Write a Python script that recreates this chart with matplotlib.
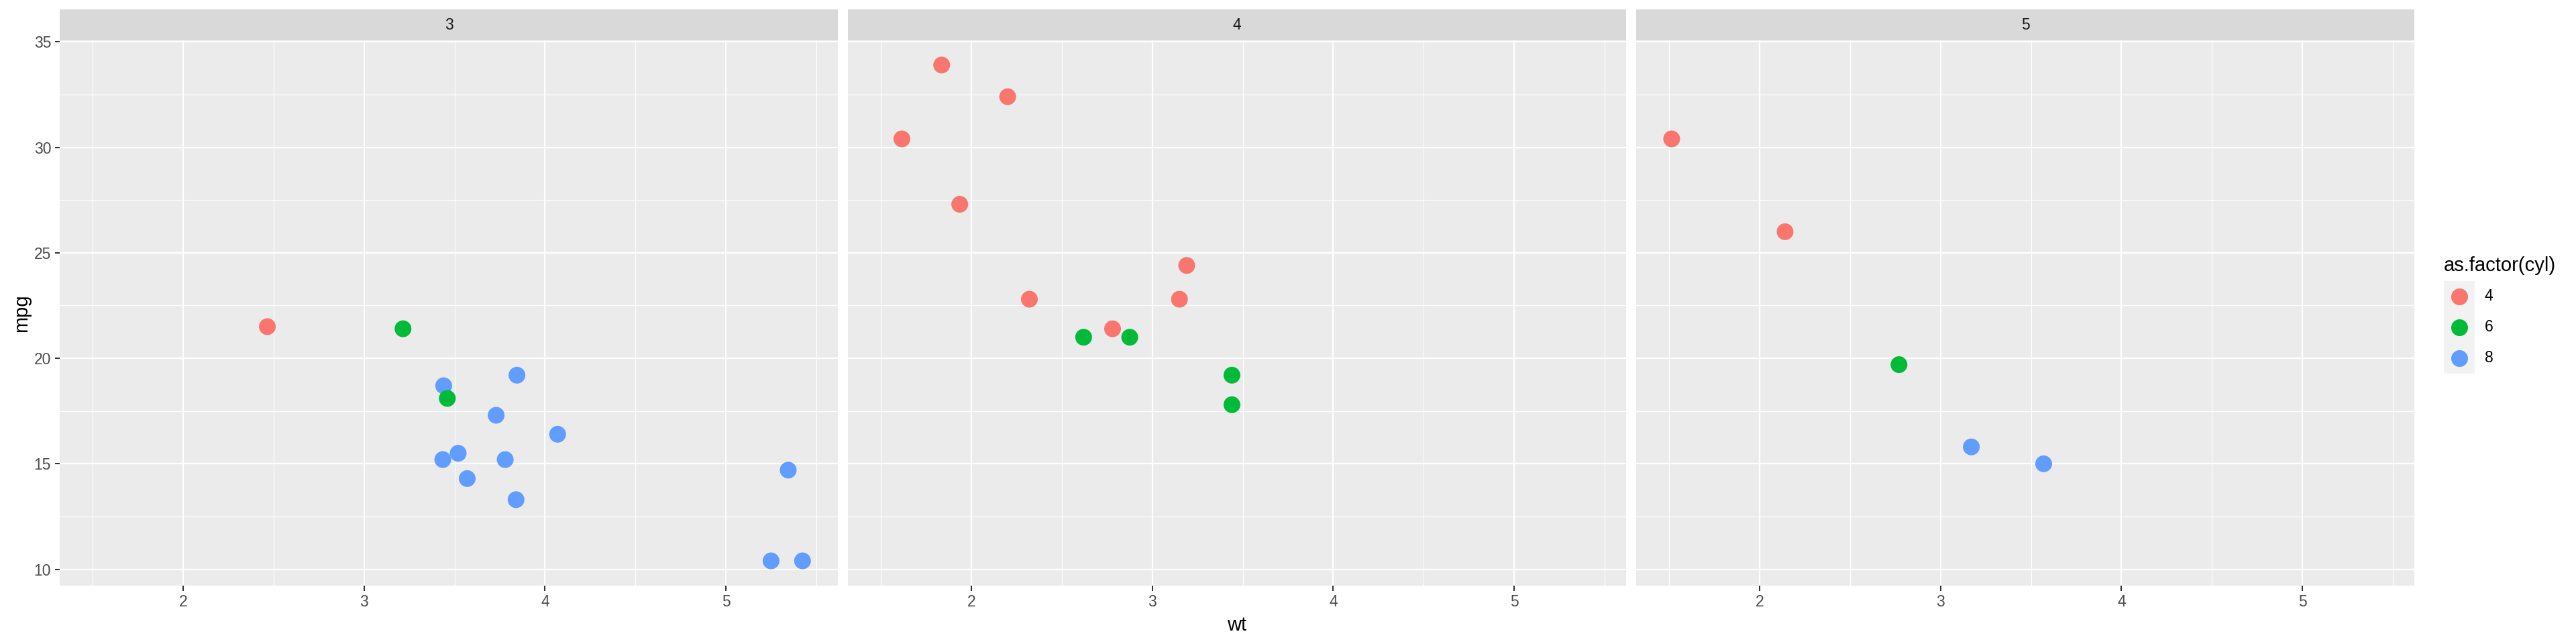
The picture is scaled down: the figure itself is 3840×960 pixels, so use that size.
import matplotlib
matplotlib.use("Agg")
import matplotlib.pyplot as plt
from matplotlib.ticker import FixedLocator
import numpy as np

# mtcars data
wt = [2.620, 2.875, 2.320, 3.215, 3.440, 3.460, 3.570, 3.190, 3.150, 3.440,
      3.440, 4.070, 3.730, 3.780, 5.250, 5.424, 5.345, 2.200, 1.615, 1.835,
      2.465, 3.520, 3.435, 3.840, 3.845, 1.935, 2.140, 1.513, 3.170, 2.770,
      3.570, 2.780]
mpg = [21.0, 21.0, 22.8, 21.4, 18.7, 18.1, 14.3, 24.4, 22.8, 19.2,
       17.8, 16.4, 17.3, 15.2, 10.4, 10.4, 14.7, 32.4, 30.4, 33.9,
       21.5, 15.5, 15.2, 13.3, 19.2, 27.3, 26.0, 30.4, 15.8, 19.7,
       15.0, 21.4]
cyl = [6, 6, 4, 6, 8, 6, 8, 4, 4, 6,
       6, 8, 8, 8, 8, 8, 8, 4, 4, 4,
       4, 8, 8, 8, 8, 4, 4, 4, 8, 6,
       8, 4]
gear = [4, 4, 4, 3, 3, 3, 3, 4, 4, 4,
        4, 3, 3, 3, 3, 3, 3, 4, 4, 4,
        3, 3, 3, 3, 3, 4, 5, 5, 5, 5,
        5, 4]

gear_levels = [3, 4, 5]
cyl_levels = [4, 6, 8]
cyl_colors = ["#F8766D", "#00BA38", "#619CFF"]
x_ticks = [2, 3, 4, 5]
x_minor = [1.5, 2.5, 3.5, 4.5, 5.5]
y_ticks = [10, 15, 20, 25, 30, 35]
y_minor = [12.5, 17.5, 22.5, 27.5, 32.5]
legend_title = "as.factor(cyl)"

plt.rcParams['font.family'] = ['Liberation Sans', 'DejaVu Sans']

W, H = 3840, 960
DPI = 100
fig = plt.figure(figsize=(W / DPI, H / DPI), dpi=DPI)
fig.patch.set_facecolor('white')


def fr(x0, y0, x1, y1):
    """pixel box (top-left origin) -> figure fraction rect"""
    return [x0 / W, 1 - y1 / H, (x1 - x0) / W, (y1 - y0) / H]


wt_a = np.array(wt)
mpg_a = np.array(mpg)
gear_a = np.array(gear)
cyl_a = np.array(cyl)
cmap = dict(zip(cyl_levels, cyl_colors))

xr = wt_a.max() - wt_a.min()
yr = mpg_a.max() - mpg_a.min()
xlim = (wt_a.min() - 0.05 * xr, wt_a.max() + 0.05 * xr)
ylim = (mpg_a.min() - 0.05 * yr, mpg_a.max() + 0.05 * yr)

panel_left = [89.2, 1264.2, 2439.2]
panel_w = 1159.8
p_top, p_bot = 60, 873
s_top = 14

tick_fs = 16.5
title_fs = 21
point_s = (25 * 72 / DPI) ** 2

for i, g in enumerate(gear_levels):
    x0 = panel_left[i]
    ax = fig.add_axes(fr(x0, p_top, x0 + panel_w, p_bot))
    ax.set_facecolor('#EBEBEB')
    for sp in ax.spines.values():
        sp.set_visible(False)
    ax.set_xlim(*xlim)
    ax.set_ylim(*ylim)
    ax.xaxis.set_major_locator(FixedLocator(x_ticks))
    ax.yaxis.set_major_locator(FixedLocator(y_ticks))
    ax.xaxis.set_minor_locator(FixedLocator(x_minor))
    ax.yaxis.set_minor_locator(FixedLocator(y_minor))
    ax.grid(which='major', color='white', lw=1.6)
    ax.grid(which='minor', color='white', lw=0.8)
    ax.set_axisbelow(True)
    ax.tick_params(which='major', length=5.4, width=1.5, color='#333333',
                   labelcolor='#4D4D4D', labelsize=tick_fs, pad=4)
    ax.tick_params(which='minor', length=0, width=0)
    if i > 0:
        ax.tick_params(axis='y', which='major', length=0, labelleft=False)
    m = gear_a == g
    cols = [cmap[c] for c in cyl_a[m]]
    ax.scatter(wt_a[m], mpg_a[m], s=point_s, c=cols, linewidths=0, zorder=3)

    sax = fig.add_axes(fr(x0, s_top, x0 + panel_w, p_top))
    sax.set_facecolor('#D9D9D9')
    for sp in sax.spines.values():
        sp.set_visible(False)
    sax.set_xticks([])
    sax.set_yticks([])
    sax.text(0.5, 0.5, str(g), ha='center', va='center', fontsize=tick_fs,
             color='#1A1A1A', transform=sax.transAxes)

# axis titles
fig.text((panel_left[0] + panel_left[2] + panel_w) / 2 / W, 1 - 932 / H, 'wt',
         ha='center', va='center', fontsize=title_fs, color='black')
fig.text(31.7 / W, 1 - 466.5 / H, 'mpg', rotation=90, ha='center', va='center',
         fontsize=title_fs, color='black')

# legend
lx0, lx1 = 3643, 3689
ly0 = 419
key_h = 46
n = len(cyl_levels)
lax = fig.add_axes(fr(lx0, ly0, lx1, ly0 + key_h * n))
lax.set_facecolor('#F2F2F2')
for sp in lax.spines.values():
    sp.set_visible(False)
lax.set_xticks([])
lax.set_yticks([])
lax.set_xlim(0, 1)
lax.set_ylim(n, 0)
for k, (lev, col) in enumerate(zip(cyl_levels, cyl_colors)):
    lax.scatter([0.5], [k + 0.5], s=point_s, c=col, linewidths=0)
    fig.text(3704 / W, 1 - (ly0 + key_h * (k + 0.5)) / H, str(lev),
             ha='left', va='center', fontsize=tick_fs, color='black')
fig.text(3643 / W, 1 - 396 / H, legend_title, ha='left', va='center',
         fontsize=title_fs, color='black')

fig.savefig('out.png', dpi=DPI, facecolor='white')
